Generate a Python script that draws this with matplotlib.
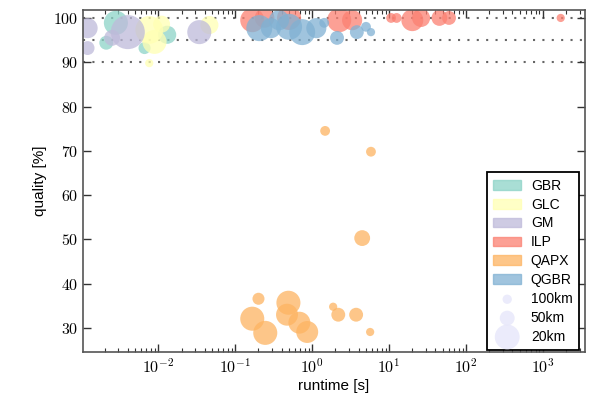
import math
import matplotlib
matplotlib.use("Agg")
import matplotlib.pyplot as plt
import matplotlib.patches as patches
from matplotlib.ticker import FuncFormatter, LogLocator

plt.rcParams['font.family'] = ['Liberation Sans', 'DejaVu Sans']
plt.rcParams['mathtext.fontset'] = 'cm'

colors = {'GBR': '#8dd3c7', 'GLC': '#ffffb3', 'GM': '#bebada',
          'ILP': '#fb8072', 'QAPX': '#fdb462', 'QGBR': '#80b1d3'}

# runtime [s], quality [%], marker size (pt^2)
gbr_t = [0.0028, 0.0021, 0.013, 0.0066]
gbr_q = [98.9, 94.4, 96.2, 93.2]
gbr_s = [300, 100, 170, 75]

glc_t = [0.0076, 0.0089, 0.0076, 0.046, 0.011]
glc_q = [97.3, 94.6, 89.8, 98.4, 98.6]
glc_s = [400, 300, 35, 170, 150]

gm_t = [0.0012, 0.0012, 0.0040, 0.0025, 0.034]
gm_q = [97.7, 93.2, 96.8, 95.5, 96.8]
gm_s = [210, 100, 600, 130, 300]

ilp_t = [0.166, 0.50, 0.24, 2.24, 3.3, 10.6, 12.5, 20, 26, 45, 60, 1700]
ilp_q = [99.5, 100, 100, 99.5, 99.5, 100, 100, 99.5, 100, 100, 100, 100]
ilp_s = [300, 300, 200, 300, 210, 50, 50, 250, 170, 130, 100, 35]

qapx_t = [0.20, 0.166, 0.245, 0.49, 0.47, 0.68, 0.86, 1.87, 2.18, 3.72, 5.66,
          1.47, 5.8, 4.46]
qapx_q = [36.6, 32.1, 28.9, 35.7, 33.0, 31.2, 29.1, 34.8, 33.0, 33.0, 29.1,
          74.5, 69.8, 50.3]
qapx_s = [75, 300, 300, 300, 250, 250, 250, 35, 100, 100, 35, 50, 50, 130]

qgbr_t = [0.205, 0.29, 0.50, 0.74, 1.13, 1.43, 2.1, 3.8, 5.0, 5.8, 0.37]
qgbr_q = [97.7, 97.7, 98.0, 96.8, 97.7, 98.9, 95.5, 96.8, 98.0, 96.8, 99.5]
qgbr_s = [350, 210, 350, 350, 210, 50, 100, 100, 50, 35, 210]

series = [('GBR', gbr_t, gbr_q, gbr_s), ('GLC', glc_t, glc_q, glc_s),
          ('GM', gm_t, gm_q, gm_s), ('ILP', ilp_t, ilp_q, ilp_s),
          ('QAPX', qapx_t, qapx_q, qapx_s), ('QGBR', qgbr_t, qgbr_q, qgbr_s)]

size_labels = ['100km', '50km', '20km']
size_values = [45, 115, 320]

x_ticks = [1e-2, 1e-1, 1e0, 1e1, 1e2, 1e3]
y_ticks = [30, 40, 50, 60, 70, 80, 90, 100]

fig = plt.figure(figsize=(5.98, 3.99), dpi=100)
ax = fig.add_axes([0.139, 0.118, 0.839, 0.857])

for y in [90, 95, 100]:
    ax.axhline(y, color='#666666', lw=1.5, ls=(0, (1, 3.5)), zorder=0)

for name, t, q, s in series:
    ax.scatter(t, q, s=s, color=colors[name], alpha=0.75, edgecolors='none', zorder=2)

ax.set_xscale('log')
ax.set_xlim(0.00105, 3500)
ax.set_ylim(24.6, 101.8)
ax.set_xticks(x_ticks)
ax.set_yticks(y_ticks)
ax.yaxis.set_major_formatter(FuncFormatter(lambda v, p: r'$%d$' % v))
ax.xaxis.set_major_formatter(FuncFormatter(lambda v, p: r'$10^{%d}$' % round(math.log10(v))))
ax.xaxis.set_minor_locator(LogLocator(base=10, subs=range(2, 10), numticks=20))
ax.tick_params(which='both', direction='in', top=True, right=True,
               color='#333333', labelsize=11.5)
ax.tick_params(which='major', length=6, width=1)
ax.tick_params(which='minor', length=3, width=0.8)
ax.tick_params(axis='x', pad=4)
for sp in ax.spines.values():
    sp.set_color('#555555')
    sp.set_linewidth(1.2)

ax.set_xlabel('runtime [s]', fontsize=11, labelpad=2)
ax.set_ylabel('quality [%]', fontsize=11)

handles = [patches.Patch(color=colors[n], alpha=0.75, label=n) for n, *_ in series]
for lab, sz in zip(size_labels, size_values):
    handles.append(plt.scatter([], [], s=sz, color='#e6e6fa', alpha=0.8,
                               edgecolors='none', label=lab))
leg = ax.legend(handles=handles, loc='lower right', fontsize=10, fancybox=False,
                framealpha=1, edgecolor='black', borderpad=0.45, labelspacing=0.35,
                handlelength=2.0, handletextpad=0.7, borderaxespad=0,
                bbox_to_anchor=(0.988, 0.006))
leg.get_frame().set_linewidth(1.3)

fig.savefig('out.png', dpi=100)
